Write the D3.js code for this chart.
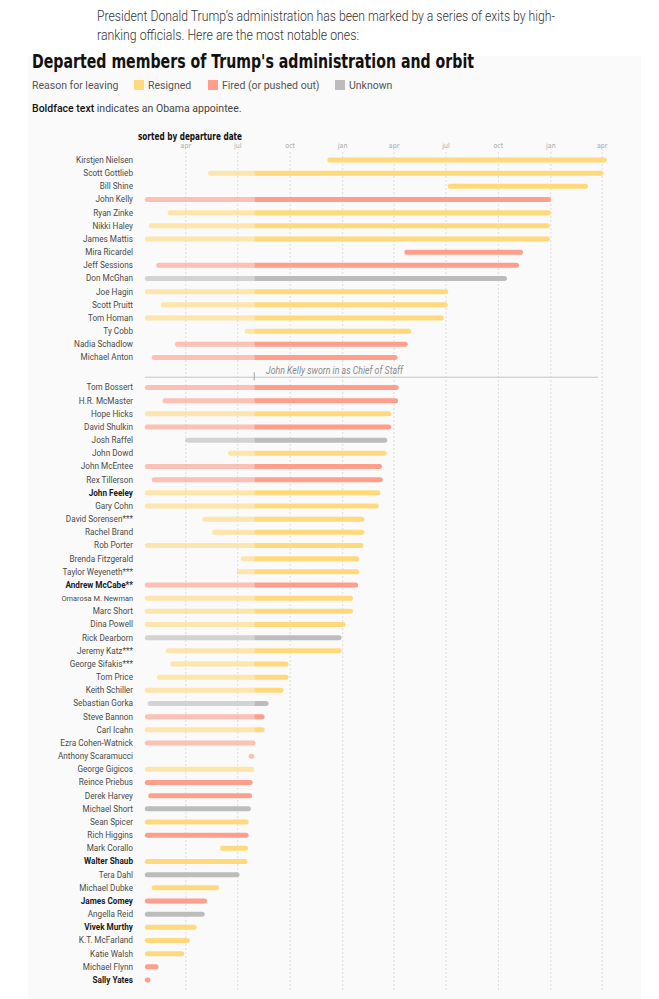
<!DOCTYPE html>
<html>
<head>
<meta charset="utf-8">
<script src="https://cdn.jsdelivr.net/npm/d3@7"></script>
<style>
  body { margin: 0; background: #fff; }
  svg { display: block; font-family: Roboto, "Noto Sans", sans-serif; }
  .grid line { stroke: #dcdcdc; stroke-dasharray: 2,2; }
  .grid text { fill: #a8a8a8; font-size: 7px; font-family: "Liberation Sans Narrow", "DejaVu Sans Condensed", sans-serif; }
</style>
</head>
<body>
<svg id="chart" width="659" height="999"></svg>
<script>
// rows, sorted by departure date (upper block above the Kelly line)
var names = [
  "Kirstjen Nielsen", "Scott Gottlieb", "Bill Shine", "John Kelly", "Ryan Zinke", "Nikki Haley",
  "James Mattis", "Mira Ricardel", "Jeff Sessions", "Don McGhan", "Joe Hagin", "Scott Pruitt",
  "Tom Homan", "Ty Cobb", "Nadia Schadlow", "Michael Anton",
  "Tom Bossert", "H.R. McMaster", "Hope Hicks", "David Shulkin", "Josh Raffel", "John Dowd",
  "John McEntee", "Rex Tillerson", "John Feeley", "Gary Cohn", "David Sorensen***", "Rachel Brand",
  "Rob Porter", "Brenda Fitzgerald", "Taylor Weyeneth***", "Andrew McCabe**", "Omarosa M. Newman",
  "Marc Short", "Dina Powell", "Rick Dearborn", "Jeremy Katz***", "George Sifakis***", "Tom Price",
  "Keith Schiller", "Sebastian Gorka", "Steve Bannon", "Carl Icahn", "Ezra Cohen-Watnick",
  "Anthony Scaramucci", "George Gigicos", "Reince Priebus", "Derek Harvey", "Michael Short",
  "Sean Spicer", "Rich Higgins", "Mark Corallo", "Walter Shaub", "Tera Dahl", "Michael Dubke",
  "James Comey", "Angella Reid", "Vivek Murthy", "K.T. McFarland", "Katie Walsh", "Michael Flynn",
  "Sally Yates"
];
var startDates = [
  "2017-12-06", "2017-05-11", "2018-07-05", "2017-01-20", "2017-03-01", "2017-01-27",
  "2017-01-20", "2018-04-20", "2017-02-09", "2017-01-20", "2017-01-20", "2017-02-17",
  "2017-01-20", "2017-07-14", "2017-03-14", "2017-02-01",
  "2017-01-20", "2017-02-20", "2017-01-20", "2017-01-20", "2017-04-01", "2017-06-15",
  "2017-01-20", "2017-02-01", "2017-01-20", "2017-01-20", "2017-05-01", "2017-05-18",
  "2017-01-20", "2017-07-07", "2017-06-30", "2017-01-20", "2017-01-20",
  "2017-01-20", "2017-01-20", "2017-01-20", "2017-02-26", "2017-03-06", "2017-02-10",
  "2017-01-20", "2017-01-25", "2017-01-20", "2017-01-20", "2017-01-20",
  "2017-07-21", "2017-01-20", "2017-01-20", "2017-01-26", "2017-01-20",
  "2017-01-20", "2017-01-20", "2017-06-01", "2017-01-20", "2017-01-20", "2017-02-01",
  "2017-01-20", "2017-01-20", "2017-01-20", "2017-01-20", "2017-01-20", "2017-01-20",
  "2017-01-20"
];
var endDates = [
  "2019-04-10", "2019-04-04", "2019-03-08", "2019-01-02", "2019-01-02", "2018-12-31",
  "2018-12-31", "2018-11-14", "2018-11-07", "2018-10-17", "2018-07-06", "2018-07-05",
  "2018-06-28", "2018-05-02", "2018-04-26", "2018-04-08",
  "2018-04-10", "2018-04-09", "2018-03-28", "2018-03-28", "2018-03-21", "2018-03-20",
  "2018-03-12", "2018-03-13", "2018-03-09", "2018-03-06", "2018-02-09", "2018-02-09",
  "2018-02-07", "2018-01-31", "2018-01-31", "2018-01-29", "2018-01-20",
  "2018-01-20", "2018-01-07", "2017-12-31", "2017-12-31", "2017-09-29", "2017-09-29",
  "2017-09-20", "2017-08-25", "2017-08-18", "2017-08-18", "2017-08-02",
  "2017-07-31", "2017-07-31", "2017-07-28", "2017-07-27", "2017-07-25",
  "2017-07-21", "2017-07-21", "2017-07-20", "2017-07-19", "2017-07-05", "2017-05-30",
  "2017-05-09", "2017-05-05", "2017-04-21", "2017-04-09", "2017-03-30", "2017-02-13",
  "2017-01-30"
];
// R = resigned, F = fired (or pushed out), U = unknown
var reasons = [
  "R", "R", "R", "F", "R", "R", "R", "F", "F", "U", "R", "R", "R", "R", "F", "F",
  "F", "F", "R", "F", "U", "R", "F", "F", "R", "R", "R", "R", "R", "R", "R", "F", "R",
  "R", "R", "U", "R", "R", "R", "R", "U", "F", "R", "F", "F", "R", "F", "F", "U",
  "R", "F", "R", "R", "U", "R", "F", "U", "R", "R", "R", "F", "F"
];
var obamaAppointees = ["John Feeley", "Andrew McCabe**", "Walter Shaub", "James Comey", "Vivek Murthy", "Sally Yates"];
var upperCount = 16;

var reasonKeys = ["R", "F", "U"];
var reasonLabels = ["Resigned", "Fired (or pushed out)", "Unknown"];
var reasonColors = ["#ffd97b", "#fe9e8b", "#bcbcbc"];

var tickDates = ["2017-04-01", "2017-07-01", "2017-10-01", "2018-01-01", "2018-04-01",
                 "2018-07-01", "2018-10-01", "2019-01-01", "2019-04-01"];
var tickLabels = ["apr", "jul", "oct", "jan", "apr", "jul", "oct", "jan", "apr"];

var inaugurationDate = "2017-01-20";
var kellyDate = "2017-07-31";
var kellyNote = "John Kelly sworn in as Chief of Staff";

var parse = d3.timeParse("%Y-%m-%d");
var rows = names.map(function(n, i) {
  return { name: n, start: parse(startDates[i]), end: parse(endDates[i]), reason: reasons[i],
           bold: obamaAppointees.indexOf(n) >= 0,
           pos: i < upperCount ? i : i + 1.28 };
});
var kelly = parse(kellyDate);

var svg = d3.select("#chart");

var x = d3.scaleTime()
    .domain([parse(tickDates[0]), parse(tickDates[tickDates.length - 1])])
    .range([185.3, 601.7]);
var y = d3.scaleLinear()
    .domain([0, d3.max(rows, function(d) { return d.pos; })])
    .range([160, 980]);
var color = d3.scaleOrdinal().domain(reasonKeys).range(reasonColors);

// intro paragraph
svg.append("text").attr("x", 97).attr("y", 21)
    .attr("textLength", 458).attr("lengthAdjust", "spacingAndGlyphs")
    .style("font-size", "14px").style("font-weight", 300).attr("fill", "#333")
    .text("President Donald Trump\u2019s administration has been marked by a series of exits by high-");
svg.append("text").attr("x", 97).attr("y", 40)
    .attr("textLength", 262).attr("lengthAdjust", "spacingAndGlyphs")
    .style("font-size", "14px").style("font-weight", 300).attr("fill", "#333")
    .text("ranking officials. Here are the most notable ones:");

// card
svg.append("rect").attr("x", 28).attr("y", 56).attr("width", 613).attr("height", 943)
    .attr("fill", "#fafafa");

svg.append("text").attr("x", 32).attr("y", 68)
    .attr("textLength", 442).attr("lengthAdjust", "spacingAndGlyphs")
    .style("font-family", "'Liberation Sans Narrow', 'DejaVu Sans Condensed', sans-serif")
    .style("font-size", "19px").style("font-weight", 700).attr("fill", "#111")
    .text("Departed members of Trump's administration and orbit");

// legend
var legend = svg.append("g").style("font-size", "10.5px").attr("fill", "#555");
legend.append("text").attr("x", 32).attr("y", 89).text("Reason for leaving");
var legendX = [134, 208, 335];
reasonKeys.forEach(function(k, i) {
  legend.append("rect").attr("x", legendX[i]).attr("y", 80).attr("width", 10).attr("height", 10)
      .attr("fill", color(k));
  legend.append("text").attr("x", legendX[i] + 14).attr("y", 89).text(reasonLabels[i]);
});

var note = svg.append("text").attr("x", 32).attr("y", 112).style("font-size", "10.5px").attr("fill", "#444");
note.append("tspan").style("font-weight", 500).attr("fill", "#111").text("Boldface text");
note.append("tspan").text(" indicates an Obama appointee.");

svg.append("text").attr("x", 138).attr("y", 140)
    .attr("textLength", 104).attr("lengthAdjust", "spacingAndGlyphs")
    .style("font-family", "'Liberation Sans Narrow', 'DejaVu Sans Condensed', sans-serif")
    .style("font-size", "11px").style("font-weight", 700).attr("fill", "#111")
    .text("sorted by departure date");

// axis + dashed gridlines
var axis = svg.append("g").attr("class", "grid").attr("transform", "translate(0,152)")
    .call(d3.axisTop(x)
      .tickValues(tickDates.map(parse))
      .tickFormat(function(d, i) { return tickLabels[i]; })
      .tickSize(-840).tickPadding(4));
axis.select(".domain").remove();

// clip for before / after Kelly
var defs = svg.append("defs");
defs.append("clipPath").attr("id", "pre").append("rect")
    .attr("x", 0).attr("y", 0).attr("width", x(kelly)).attr("height", 999);
defs.append("clipPath").attr("id", "post").append("rect")
    .attr("x", x(kelly)).attr("y", 0).attr("width", 659 - x(kelly)).attr("height", 999);

// annotation
var ay = y(upperCount + 0.5);
svg.append("line").attr("x1", x(parse(inaugurationDate))).attr("x2", 598)
    .attr("y1", ay).attr("y2", ay).attr("stroke", "#c4c4c4").attr("stroke-width", 1);
svg.append("line").attr("x1", x(kelly)).attr("x2", x(kelly))
    .attr("y1", ay - 5).attr("y2", ay + 3).attr("stroke", "#b0b0b0").attr("stroke-width", 1.2);
svg.append("text").attr("x", 266).attr("y", ay - 3.5)
    .attr("textLength", 137).attr("lengthAdjust", "spacingAndGlyphs")
    .style("font-size", "10px").style("font-style", "italic").attr("fill", "#8a8a8a")
    .text(kellyNote);

// bars
var barH = 5;
var row = svg.selectAll(".row").data(rows).enter().append("g").attr("class", "row");

function bar(sel, clip, opacity) {
  sel.append("rect")
      .attr("x", function(d) { return x(d.start); })
      .attr("y", function(d) { return y(d.pos) - barH / 2; })
      .attr("width", function(d) { return Math.max(x(d.end) - x(d.start), 4); })
      .attr("height", barH).attr("rx", barH / 2)
      .attr("fill", function(d) { return color(d.reason); })
      .attr("opacity", opacity)
      .attr("clip-path", clip ? "url(#" + clip + ")" : null);
}

var spans = row.filter(function(d) { return d.end >= kelly && d.start < kelly; });
bar(spans, "pre", 0.62);
bar(spans, "post", 1);
bar(row.filter(function(d) { return !(d.end >= kelly && d.start < kelly); }), null, 1);

// names
row.append("text")
    .attr("x", 133).attr("y", function(d) { return y(d.pos); }).attr("dy", "0.35em")
    .attr("text-anchor", "end")
    .style("font-size", function(d) { return d.name === "Omarosa M. Newman" ? "7.4px" : "8.2px"; })
    .style("font-weight", function(d) { return d.bold ? 700 : 400; })
    .attr("fill", function(d) { return d.bold ? "#1a1a1a" : "#4a4a4a"; })
    .text(function(d) { return d.name; });
</script>
</body>
</html>
